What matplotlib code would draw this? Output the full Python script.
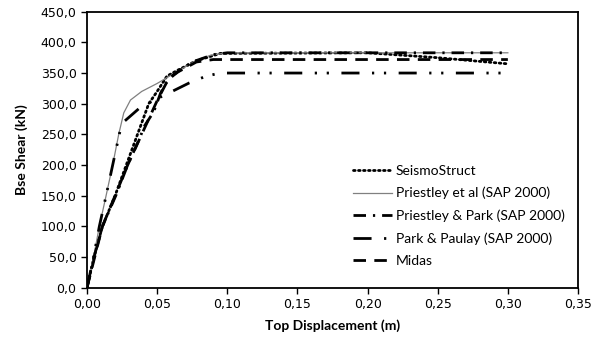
import matplotlib
matplotlib.use("Agg")
import matplotlib.pyplot as plt
from matplotlib.ticker import FuncFormatter

# Curvas pushover (desplazamiento en m, cortante en kN)
seismo_d = [0.0, 0.005, 0.011, 0.020, 0.028, 0.036, 0.044, 0.050, 0.057, 0.065, 0.078, 0.095, 0.20, 0.25, 0.30]
seismo_v = [0.0, 50.0, 100.0, 150.0, 200.0, 250.0, 300.0, 320.0, 345.0, 355.0, 370.0, 382.0, 383.0, 375.0, 365.0]

priestley_d = [0.0, 0.0047, 0.0088, 0.0136, 0.0183, 0.0226, 0.0262, 0.031, 0.039, 0.050, 0.064, 0.076, 0.088, 0.10, 0.30]
priestley_v = [0.0, 50.0, 100.0, 150.0, 200.0, 250.0, 285.0, 306.0, 320.0, 333.0, 352.0, 368.0, 379.0, 383.0, 383.0]

pp_d = [0.0, 0.005, 0.011, 0.0205, 0.029, 0.038, 0.0405, 0.0476, 0.0524, 0.056, 0.062, 0.075, 0.09, 0.10, 0.30]
pp_v = [0.0, 50.0, 100.0, 150.0, 200.0, 246.0, 262.0, 287.0, 317.0, 333.0, 348.0, 368.0, 380.0, 383.0, 383.0]

paulay_d = [0.0, 0.0047, 0.0088, 0.0136, 0.0183, 0.0235, 0.026, 0.037, 0.048, 0.058, 0.073, 0.085, 0.095, 0.30]
paulay_v = [0.0, 50.0, 100.0, 150.0, 200.0, 255.0, 270.0, 292.0, 306.0, 317.0, 334.0, 345.0, 350.0, 350.0]

midas_d = [0.0, 0.011, 0.020, 0.029, 0.040, 0.050, 0.058, 0.065, 0.078, 0.090, 0.30]
midas_v = [0.0, 100.0, 150.0, 200.0, 255.0, 305.0, 340.0, 352.0, 368.0, 372.0, 372.0]

fig = plt.figure(figsize=(6.02, 3.45), dpi=100)
ax = fig.add_axes([87 / 602, (345 - 287.7) / 345, 491 / 602, 276 / 345])

ax.plot(seismo_d, seismo_v, color="black", lw=2.0, ls=(0, (0.6, 1.2)),
        dash_capstyle="round", label="SeismoStruct")
ax.plot(priestley_d, priestley_v, color="#808080", lw=0.9, label="Priestley et al (SAP 2000)")
ax.plot(pp_d, pp_v, color="black", lw=2.0, ls=(0, (4.5, 2.5, 0.8, 2.5)),
        label="Priestley & Park (SAP 2000)")
ax.plot(paulay_d, paulay_v, color="black", lw=2.0, ls=(0, (6.5, 4.5, 0.8, 3.5, 0.8, 4.5)),
        label="Park & Paulay (SAP 2000)")
ax.plot(midas_d, midas_v, color="black", lw=2.0, ls=(0, (4.5, 3.0)), label="Midas")

ax.set_xlim(0, 0.35)
ax.set_ylim(0, 450)
ax.set_xticks([0.0, 0.05, 0.10, 0.15, 0.20, 0.25, 0.30, 0.35])
ax.set_yticks(range(0, 451, 50))
ax.xaxis.set_major_formatter(FuncFormatter(lambda v, p: f"{v:.2f}".replace(".", ",")))
ax.yaxis.set_major_formatter(FuncFormatter(lambda v, p: f"{v:.1f}".replace(".", ",")))
ax.tick_params(direction="out", length=4, width=1, labelsize=9, colors="black")
for s in ax.spines.values():
    s.set_linewidth(1.3)

ax.set_xlabel("Top Displacement (m)", fontfamily="Lato", fontweight="bold", fontsize=10, labelpad=6)
ax.set_ylabel("Bse Shear (kN)", fontfamily="Lato", fontweight="bold", fontsize=10, labelpad=9)

ax.legend(loc="upper left", bbox_to_anchor=(0.53, 0.465), frameon=False,
          prop={"family": "Lato", "size": 10}, handlelength=2.8, handletextpad=0.3,
          labelspacing=0.72, borderaxespad=0)

fig.savefig("out.png", dpi=100)
